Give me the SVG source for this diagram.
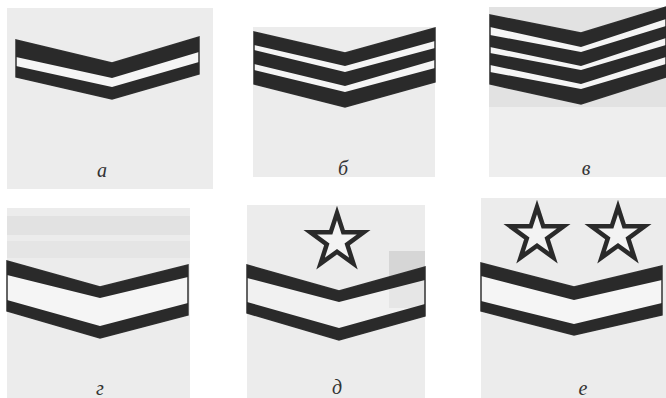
<svg xmlns="http://www.w3.org/2000/svg" width="666" height="398" viewBox="0 0 666 398">
<style>
.bg{fill:#ececec}
.gap{fill:#f5f5f5;stroke:#333;stroke-width:1.5;stroke-linejoin:miter}
.band{fill:#2a2a2a}
.star{fill:#f3f3f3;stroke:#2a2a2a;stroke-width:4.5;stroke-linejoin:miter}
.lbl{font-family:"Liberation Serif","DejaVu Serif",serif;font-style:italic;font-size:20px;fill:#333;text-anchor:middle}
</style>
<defs>
<polygon id="star" class="star" points="0,-28 6.29,-8.66 26.63,-8.65 10.18,3.31 16.46,22.65 0,10.7 -16.46,22.65 -10.18,3.31 -26.63,-8.65 -6.29,-8.66"/>
</defs>
<rect width="666" height="398" fill="#ffffff"/>

<g id="panel-a">
<rect class="bg" x="7" y="8" width="206" height="181"/>
<polygon class="gap" points="16,40 112,63 199,37 199,74 112,99 16,77"/>
<polygon class="band" points="16,40 112,63 199,37 199,52 112,78 16,57"/>
<polygon class="band" points="16,66 112,87 199,62 199,74 112,99 16,77"/>
<text class="lbl" x="102" y="177">а</text>
</g>

<g id="panel-b">
<rect class="bg" x="253" y="27" width="182" height="150"/>
<polygon class="gap" points="254,32 345,53 435,28 435,82 345,107 254,84"/>
<polygon class="band" points="254,32 345,53 435,28 435,41 345,66 254,45"/>
<polygon class="band" points="254,50 345,72 435,48 435,60 345,86 254,64"/>
<polygon class="band" points="254,70 345,92 435,68 435,82 345,107 254,84"/>
<text class="lbl" x="343" y="175">б</text>
</g>

<g id="panel-v">
<rect x="489" y="7" width="177" height="170" fill="#eeeeee"/>
<rect x="489" y="7" width="177" height="100" fill="#e2e2e2"/>
<polygon class="gap" points="490,15 581,33 666,7 666,77 581,104 490,84"/>
<polygon class="band" points="490,15 581,33 666,7 666,19 581,47 490,27"/>
<polygon class="band" points="490,35 581,52 666,26 666,38 581,66 490,47"/>
<polygon class="band" points="490,53 581,70 666,45 666,57 581,84 490,65"/>
<polygon class="band" points="490,72 581,89 666,64 666,77 581,104 490,84"/>
<text class="lbl" x="586" y="175">в</text>
</g>

<g id="panel-g">
<rect class="bg" x="7" y="208" width="183" height="190"/>
<rect x="7" y="216" width="183" height="19" fill="#e2e2e2"/>
<rect x="7" y="241" width="183" height="17" fill="#e5e5e5"/>
<polygon class="gap" points="7,261 100,287 188,265 188,315 100,338 7,311"/>
<polygon class="band" points="7,261 100,287 188,265 188,277 100,298 7,275"/>
<polygon class="band" points="7,300 100,326 188,303 188,315 100,338 7,311"/>
<text class="lbl" x="100" y="395">г</text>
</g>

<g id="panel-d">
<rect class="bg" x="247" y="205" width="178" height="193"/>
<rect x="389" y="251" width="36" height="57" fill="#d6d6d6"/>
<polygon class="gap" points="247,265 339,291 425,267 425,316 339,340 247,313" fill-opacity="0.5"/>
<polygon class="band" points="247,265 339,291 425,267 425,280 339,302 247,278"/>
<polygon class="band" points="247,302 339,328 425,304 425,316 339,340 247,313"/>
<use href="#star" x="337" y="241"/>
<text class="lbl" x="337" y="394">д</text>
</g>

<g id="panel-e">
<rect class="bg" x="481" y="198" width="185" height="200"/>
<polygon class="gap" points="481,263 574,287 662,266 662,315 574,335 481,311"/>
<polygon class="band" points="481,263 574,287 662,266 662,280 574,300 481,276"/>
<polygon class="band" points="481,301 574,324 662,303 662,315 574,335 481,311"/>
<use href="#star" x="537" y="235"/>
<use href="#star" x="618" y="235"/>
<text class="lbl" x="583" y="395">е</text>
</g>
</svg>
